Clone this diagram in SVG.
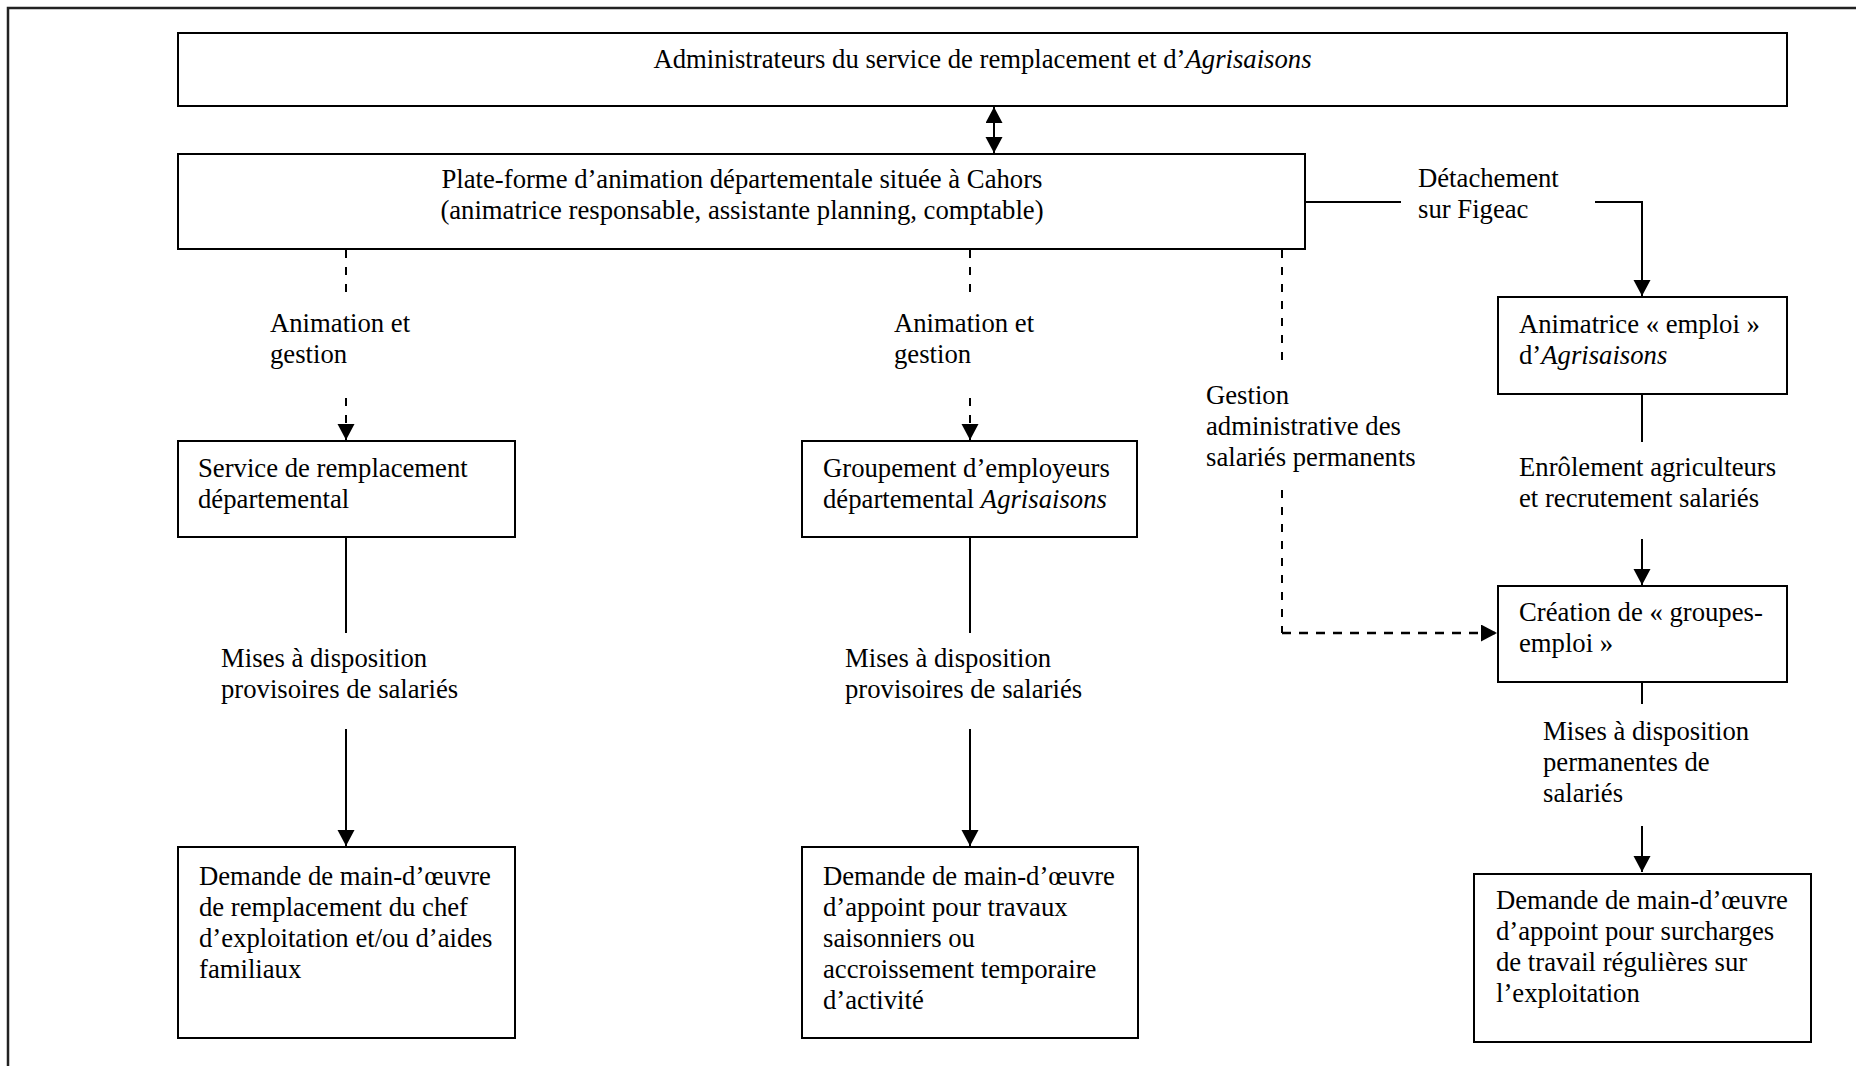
<svg xmlns="http://www.w3.org/2000/svg" width="1856" height="1066" viewBox="0 0 1856 1066">
<style>
  .box { fill: #fff; stroke: #000; stroke-width: 2; }
  .t { font-family: "Liberation Serif", "Times New Roman", serif; font-size: 26.7px; fill: #000; }
  .i { font-style: italic; }
  .ln { fill: none; stroke: #000; stroke-width: 2; }
  .dash { fill: none; stroke: #000; stroke-width: 2; stroke-dasharray: 8 9; }
  .dash2 { fill: none; stroke: #000; stroke-width: 2.5; stroke-dasharray: 9 8; }
</style>
<defs>
  <marker id="ah" markerUnits="userSpaceOnUse" markerWidth="17" markerHeight="18" refX="16" refY="8.5" orient="auto-start-reverse">
    <path d="M0,0 L16,8.5 L0,17 z" fill="#000"/>
  </marker>
</defs>
<rect width="1856" height="1066" fill="#fff"/>
<path d="M8,1070 V8 H1860" fill="none" stroke="#222" stroke-width="2.5"/>

<g id="connectors">
  <line class="ln" x1="994" y1="107" x2="994" y2="153" marker-start="url(#ah)" marker-end="url(#ah)"/>
  <line class="ln" x1="1305" y1="202" x2="1401" y2="202"/>
  <polyline class="ln" points="1595,202 1642,202 1642,296" marker-end="url(#ah)"/>
  <line class="dash" x1="346" y1="250" x2="346" y2="296"/>
  <line class="dash" x1="346" y1="398" x2="346" y2="440" marker-end="url(#ah)"/>
  <line class="dash" x1="970" y1="250" x2="970" y2="296"/>
  <line class="dash" x1="970" y1="398" x2="970" y2="440" marker-end="url(#ah)"/>
  <line class="dash" x1="1282" y1="250" x2="1282" y2="368"/>
  <line class="dash" x1="1282" y1="490" x2="1282" y2="633"/>
  <line class="dash2" x1="1282" y1="633" x2="1497" y2="633" marker-end="url(#ah)"/>
  <line class="ln" x1="346" y1="537" x2="346" y2="633"/>
  <line class="ln" x1="346" y1="729" x2="346" y2="846" marker-end="url(#ah)"/>
  <line class="ln" x1="970" y1="537" x2="970" y2="633"/>
  <line class="ln" x1="970" y1="729" x2="970" y2="846" marker-end="url(#ah)"/>
  <line class="ln" x1="1642" y1="394" x2="1642" y2="442"/>
  <line class="ln" x1="1642" y1="539" x2="1642" y2="585" marker-end="url(#ah)"/>
  <line class="ln" x1="1642" y1="682" x2="1642" y2="704"/>
  <line class="ln" x1="1642" y1="826" x2="1642" y2="872" marker-end="url(#ah)"/>
</g>

<g id="admin">
  <rect class="box" x="178" y="33" width="1609" height="73"/>
  <text class="t" x="982.5" y="68" text-anchor="middle">Administrateurs du service de remplacement et d’<tspan class="i">Agrisaisons</tspan></text>
</g>
<g id="plateforme">
  <rect class="box" x="178" y="154" width="1127" height="95"/>
  <text class="t" x="742" y="188" text-anchor="middle">Plate-forme d’animation départementale située à Cahors</text>
  <text class="t" x="742" y="219" text-anchor="middle">(animatrice responsable, assistante planning, comptable)</text>
</g>
<g id="label-detachement">
  <text class="t" x="1418" y="187">Détachement</text>
  <text class="t" x="1418" y="218">sur Figeac</text>
</g>
<g id="label-animation1">
  <text class="t" x="270" y="332">Animation et</text>
  <text class="t" x="270" y="363">gestion</text>
</g>
<g id="label-animation2">
  <text class="t" x="894" y="332">Animation et</text>
  <text class="t" x="894" y="363">gestion</text>
</g>
<g id="label-gestion">
  <text class="t" x="1206" y="404">Gestion</text>
  <text class="t" x="1206" y="435">administrative des</text>
  <text class="t" x="1206" y="466">salariés permanents</text>
</g>
<g id="service-remplacement">
  <rect class="box" x="178" y="441" width="337" height="96"/>
  <text class="t" x="198" y="477">Service de remplacement</text>
  <text class="t" x="198" y="508">départemental</text>
</g>
<g id="groupement">
  <rect class="box" x="802" y="441" width="335" height="96"/>
  <text class="t" x="823" y="477">Groupement d’employeurs</text>
  <text class="t" x="823" y="508">départemental <tspan class="i">Agrisaisons</tspan></text>
</g>
<g id="animatrice">
  <rect class="box" x="1498" y="297" width="289" height="97"/>
  <text class="t" x="1519" y="333">Animatrice « emploi »</text>
  <text class="t" x="1519" y="364">d’<tspan class="i">Agrisaisons</tspan></text>
</g>
<g id="label-enrolement">
  <text class="t" x="1519" y="476">Enrôlement agriculteurs</text>
  <text class="t" x="1519" y="507">et recrutement salariés</text>
</g>
<g id="creation">
  <rect class="box" x="1498" y="586" width="289" height="96"/>
  <text class="t" x="1519" y="621">Création de « groupes-</text>
  <text class="t" x="1519" y="652">emploi »</text>
</g>
<g id="label-mises1">
  <text class="t" x="221" y="667">Mises à disposition</text>
  <text class="t" x="221" y="698">provisoires de salariés</text>
</g>
<g id="label-mises2">
  <text class="t" x="845" y="667">Mises à disposition</text>
  <text class="t" x="845" y="698">provisoires de salariés</text>
</g>
<g id="label-mises3">
  <text class="t" x="1543" y="740">Mises à disposition</text>
  <text class="t" x="1543" y="771">permanentes de</text>
  <text class="t" x="1543" y="802">salariés</text>
</g>
<g id="demande1">
  <rect class="box" x="178" y="847" width="337" height="191"/>
  <text class="t" x="199" y="885">Demande de main-d’œuvre</text>
  <text class="t" x="199" y="916">de remplacement du chef</text>
  <text class="t" x="199" y="947">d’exploitation et/ou d’aides</text>
  <text class="t" x="199" y="978">familiaux</text>
</g>
<g id="demande2">
  <rect class="box" x="802" y="847" width="336" height="191"/>
  <text class="t" x="823" y="885">Demande de main-d’œuvre</text>
  <text class="t" x="823" y="916">d’appoint pour travaux</text>
  <text class="t" x="823" y="947">saisonniers ou</text>
  <text class="t" x="823" y="978">accroissement temporaire</text>
  <text class="t" x="823" y="1009">d’activité</text>
</g>
<g id="demande3">
  <rect class="box" x="1474" y="874" width="337" height="168"/>
  <text class="t" x="1496" y="909">Demande de main-d’œuvre</text>
  <text class="t" x="1496" y="940">d’appoint pour surcharges</text>
  <text class="t" x="1496" y="971">de travail régulières sur</text>
  <text class="t" x="1496" y="1002">l’exploitation</text>
</g>
</svg>
